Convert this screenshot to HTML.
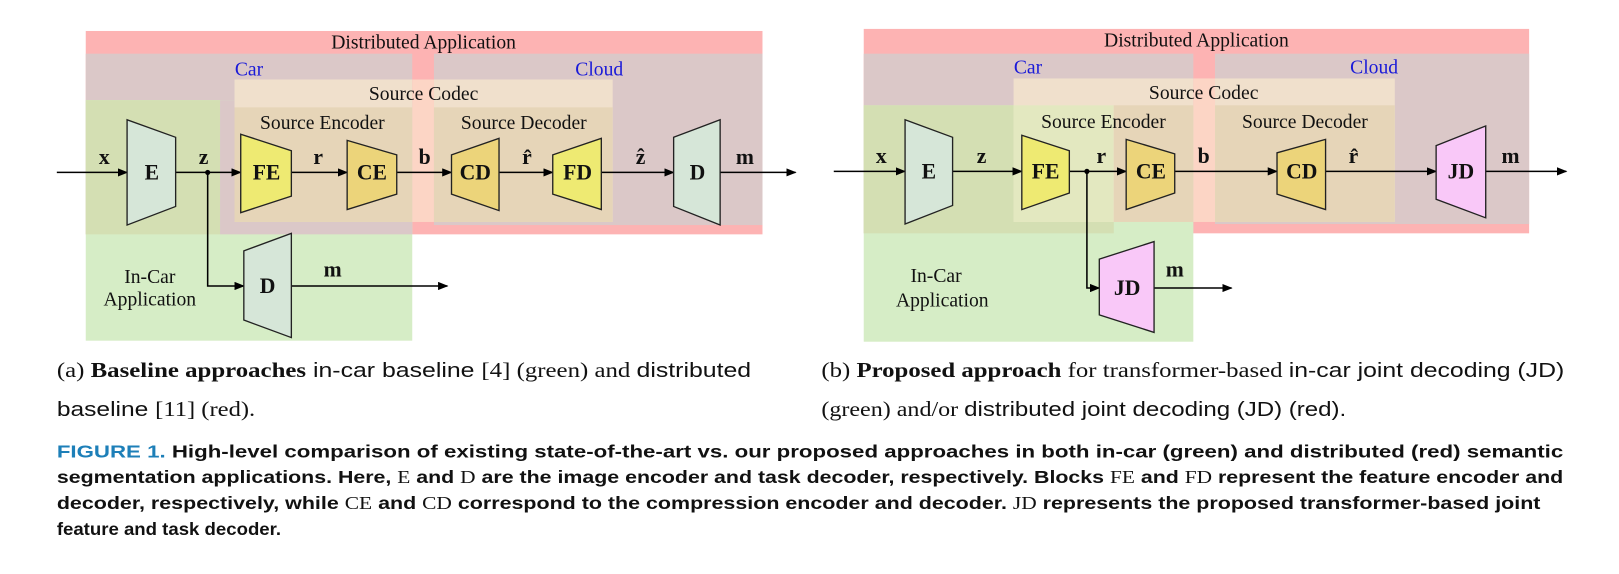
<!DOCTYPE html>
<html><head><meta charset="utf-8"><style>
html,body{margin:0;padding:0;background:#fff;}
svg{display:block;}
.t{font-family:"Liberation Serif",serif;fill:#111;}
.b{font-family:"Liberation Serif",serif;font-weight:bold;fill:#111;font-size:21px;text-anchor:middle;}
.s{font-family:"Liberation Sans",sans-serif;}
</style></head><body>
<svg width="1619" height="574" viewBox="0 0 1567 556" preserveAspectRatio="none" xmlns="http://www.w3.org/2000/svg">
<defs>
<marker id="a" markerWidth="10" markerHeight="8" refX="9" refY="4" orient="auto" markerUnits="userSpaceOnUse">
<path d="M0,0 L10,4 L0,8 z" fill="#000"/></marker>
</defs>

<!-- ============ LEFT ============ -->
<rect x="83" y="30" width="655" height="197" fill="#fdb3b3"/>
<rect x="83" y="52" width="316" height="175" fill="#dbc8c8"/>
<rect x="420" y="52" width="318" height="166" fill="#dbc8c8"/>
<rect x="83" y="97" width="316" height="233" fill="#d6edc6"/>
<rect x="83" y="97" width="130" height="130" fill="#d4dfb3"/>
<rect x="213" y="97" width="186" height="130" fill="#dbc8c8"/>
<rect x="227" y="77" width="172" height="138" fill="#f0e0cc"/>
<rect x="420" y="77" width="173" height="138" fill="#f0e0cc"/>
<rect x="399" y="77" width="21" height="138" fill="#fcd5c5"/>
<rect x="227" y="104" width="172" height="111" fill="#e6d5b8"/>
<rect x="420" y="104" width="173" height="111" fill="#e6d5b8"/>

<text class="t" x="410" y="47" font-size="19" text-anchor="middle">Distributed Application</text>
<text class="t" x="241" y="73" font-size="19" text-anchor="middle" style="fill:#1a1ad8">Car</text>
<text class="t" x="580" y="73" font-size="19" text-anchor="middle" style="fill:#1a1ad8">Cloud</text>
<text class="t" x="410" y="97" font-size="19" text-anchor="middle">Source Codec</text>
<text class="t" x="312" y="125" font-size="19" text-anchor="middle">Source Encoder</text>
<text class="t" x="507" y="125" font-size="19" text-anchor="middle">Source Decoder</text>
<text class="t" x="145" y="274" font-size="19" text-anchor="middle">In-Car</text>
<text class="t" x="145" y="296" font-size="19" text-anchor="middle">Application</text>

<g stroke="#000" stroke-width="1.5" fill="none">
<line x1="55" y1="167" x2="123" y2="167" marker-end="url(#a)"/>
<line x1="170" y1="167" x2="233" y2="167" marker-end="url(#a)"/>
<line x1="282" y1="167" x2="336" y2="167" marker-end="url(#a)"/>
<line x1="384" y1="167" x2="437" y2="167" marker-end="url(#a)"/>
<line x1="483" y1="167" x2="535" y2="167" marker-end="url(#a)"/>
<line x1="582" y1="167" x2="652" y2="167" marker-end="url(#a)"/>
<line x1="697" y1="167" x2="770" y2="167" marker-end="url(#a)"/>
<polyline points="201,167 201,277 236,277" marker-end="url(#a)"/>
<line x1="282" y1="277" x2="433" y2="277" marker-end="url(#a)"/>
</g>
<circle cx="201" cy="167" r="2.5" fill="#000"/>
<g stroke="#222" stroke-width="1.3">
<polygon points="123,116 170,133 170,200 123,218" fill="#d6e6d8"/>
<polygon points="233,130 282,146 282,190 233,206" fill="#eeea72"/>
<polygon points="336,136 384,150 384,188 336,203" fill="#ecd47a"/>
<polygon points="437,150 483,134 483,204 437,188" fill="#ecd47a"/>
<polygon points="535,150 582,134 582,203 535,188" fill="#eeea72"/>
<polygon points="652,133 697,116 697,218 652,200" fill="#d6e6d8"/>
<polygon points="236,243 282,226 282,327 236,310" fill="#d6e6d8"/>
</g>
<text class="b" x="147" y="174">E</text>
<text class="b" x="258" y="174">FE</text>
<text class="b" x="360" y="174">CE</text>
<text class="b" x="460" y="174">CD</text>
<text class="b" x="559" y="174">FD</text>
<text class="b" x="675" y="174">D</text>
<text class="b" x="259" y="284">D</text>
<text class="b" x="101" y="159">x</text>
<text class="b" x="197" y="159">z</text>
<text class="b" x="308" y="159">r</text>
<text class="b" x="411" y="159">b</text>
<text class="b" x="510" y="159">r̂</text>
<text class="b" x="620" y="159">ẑ</text>
<text class="b" x="721" y="159">m</text>
<text class="b" x="322" y="268">m</text>

<!-- ============ RIGHT ============ -->
<rect x="836" y="28" width="644" height="198" fill="#fdb3b3"/>
<rect x="836" y="52" width="319" height="174" fill="#dbc8c8"/>
<rect x="1176" y="52" width="304" height="165" fill="#dbc8c8"/>
<rect x="836" y="102" width="319" height="229" fill="#d6edc6"/>
<rect x="836" y="102" width="242" height="124" fill="#d4dfb3"/>
<rect x="981" y="76" width="174" height="139" fill="#f0e0cc"/>
<rect x="1176" y="76" width="174" height="139" fill="#f0e0cc"/>
<rect x="1155" y="76" width="21" height="139" fill="#fcd5c5"/>
<rect x="981" y="102" width="97" height="113" fill="#e3e8c0"/>
<rect x="1078" y="102" width="77" height="113" fill="#e6d5b8"/>
<rect x="1176" y="102" width="174" height="113" fill="#e6d5b8"/>

<text class="t" x="1158" y="45" font-size="19" text-anchor="middle">Distributed Application</text>
<text class="t" x="995" y="71" font-size="19" text-anchor="middle" style="fill:#1a1ad8">Car</text>
<text class="t" x="1330" y="71" font-size="19" text-anchor="middle" style="fill:#1a1ad8">Cloud</text>
<text class="t" x="1165" y="96" font-size="19" text-anchor="middle">Source Codec</text>
<text class="t" x="1068" y="124" font-size="19" text-anchor="middle">Source Encoder</text>
<text class="t" x="1263" y="124" font-size="19" text-anchor="middle">Source Decoder</text>
<text class="t" x="906" y="273" font-size="19" text-anchor="middle">In-Car</text>
<text class="t" x="912" y="297" font-size="19" text-anchor="middle">Application</text>

<g stroke="#000" stroke-width="1.5" fill="none">
<line x1="807" y1="166" x2="876" y2="166" marker-end="url(#a)"/>
<line x1="922" y1="166" x2="989" y2="166" marker-end="url(#a)"/>
<line x1="1035" y1="166" x2="1090" y2="166" marker-end="url(#a)"/>
<line x1="1137" y1="166" x2="1236" y2="166" marker-end="url(#a)"/>
<line x1="1283" y1="166" x2="1390" y2="166" marker-end="url(#a)"/>
<line x1="1438" y1="166" x2="1516" y2="166" marker-end="url(#a)"/>
<polyline points="1052,166 1052,279 1064,279" marker-end="url(#a)"/>
<line x1="1117" y1="279" x2="1192" y2="279" marker-end="url(#a)"/>
</g>
<circle cx="1052" cy="166" r="2.5" fill="#000"/>
<g stroke="#222" stroke-width="1.3">
<polygon points="876,116 922,133 922,199 876,217" fill="#d6e6d8"/>
<polygon points="989,131 1035,146 1035,187 989,203" fill="#eeea72"/>
<polygon points="1090,135 1137,149 1137,187 1090,203" fill="#ecd47a"/>
<polygon points="1236,148 1283,135 1283,203 1236,188" fill="#ecd47a"/>
<polygon points="1390,141 1438,122 1438,211 1390,193" fill="#f9c8f8"/>
<polygon points="1064,251 1117,234 1117,322 1064,305" fill="#f9c8f8"/>
</g>
<text class="b" x="899" y="173">E</text>
<text class="b" x="1012" y="173">FE</text>
<text class="b" x="1114" y="173">CE</text>
<text class="b" x="1260" y="173">CD</text>
<text class="b" x="1414" y="173">JD</text>
<text class="b" x="1091" y="286">JD</text>
<text class="b" x="853" y="158">x</text>
<text class="b" x="950" y="158">z</text>
<text class="b" x="1066" y="158">r</text>
<text class="b" x="1165" y="158">b</text>
<text class="b" x="1310" y="158">r̂</text>
<text class="b" x="1462" y="158">m</text>
<text class="b" x="1137" y="268">m</text>

<!-- ============ CAPTIONS ============ -->
<text x="55" y="365" font-size="20" textLength="672" lengthAdjust="spacingAndGlyphs"><tspan class="t">(a)  </tspan><tspan class="t" font-weight="bold">Baseline approaches</tspan><tspan class="s" fill="#111"> in-car baseline </tspan><tspan class="t">[4] (green) and </tspan><tspan class="s" fill="#111">distributed</tspan></text>
<text x="55" y="403" font-size="20" textLength="192" lengthAdjust="spacingAndGlyphs"><tspan class="s" fill="#111">baseline </tspan><tspan class="t">[11] (red).</tspan></text>
<text x="795" y="365" font-size="20" textLength="719" lengthAdjust="spacingAndGlyphs"><tspan class="t">(b)  </tspan><tspan class="t" font-weight="bold">Proposed approach</tspan><tspan class="t"> for transformer-based </tspan><tspan class="s" fill="#111">in-car joint decoding (JD)</tspan></text>
<text x="795" y="403" font-size="20" textLength="508" lengthAdjust="spacingAndGlyphs"><tspan class="t">(green) and/or </tspan><tspan class="s" fill="#111">distributed joint decoding (JD) (red).</tspan></text>

<g class="s" font-size="17" font-weight="bold" fill="#111">
<text x="55" y="443" textLength="1458" lengthAdjust="spacingAndGlyphs"><tspan fill="#1d7fb8">FIGURE 1.</tspan>  High-level comparison of existing state-of-the-art vs. our proposed approaches in both in-car (green) and distributed (red) semantic</text>
<text x="55" y="468" textLength="1458" lengthAdjust="spacingAndGlyphs">segmentation applications. Here, <tspan class="t" font-weight="normal">E</tspan> and <tspan class="t" font-weight="normal">D</tspan> are the image encoder and task decoder, respectively. Blocks <tspan class="t" font-weight="normal">FE</tspan> and <tspan class="t" font-weight="normal">FD</tspan> represent the feature encoder and</text>
<text x="55" y="493" textLength="1436" lengthAdjust="spacingAndGlyphs">decoder, respectively, while <tspan class="t" font-weight="normal">CE</tspan> and <tspan class="t" font-weight="normal">CD</tspan> correspond to the compression encoder and decoder. <tspan class="t" font-weight="normal">JD</tspan> represents the proposed transformer-based joint</text>
<text x="55" y="518" textLength="217" lengthAdjust="spacingAndGlyphs">feature and task decoder.</text>
</g>
</svg>
</body></html>
